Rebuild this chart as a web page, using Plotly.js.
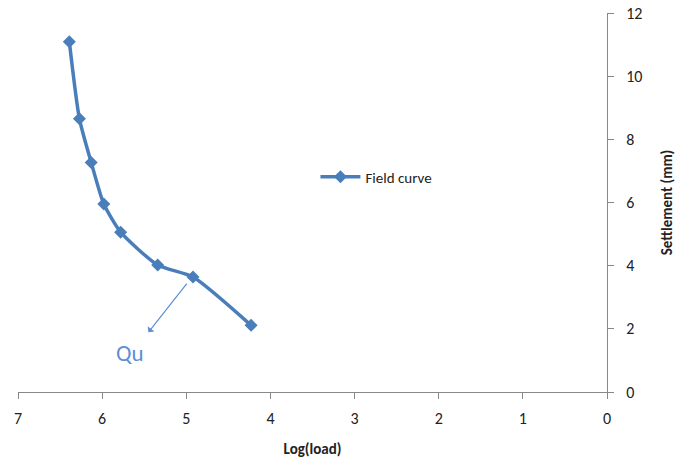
<!DOCTYPE html>
<html>
<head>
<meta charset="utf-8">
<script src="https://cdn.plot.ly/plotly-3.0.1.min.js"></script>
<style>html,body{margin:0;padding:0;background:#fff;}#chart{width:678px;height:461px;}</style>
</head>
<body>
<div id="chart"></div>
<script>
const logLoad = [6.39, 6.27, 6.13, 5.98, 5.78, 5.34, 4.92, 4.23];
const settlement = [11.09, 8.65, 7.27, 5.95, 5.06, 4.02, 3.64, 2.11];
const seriesName = 'Field curve';
const xTicks = [7, 6, 5, 4, 3, 2, 1, 0];
const yTicks = [0, 2, 4, 6, 8, 10, 12];
const quTail = [4.98, 3.48];
const quHead = [5.45, 1.89];
const quLabel = [5.67, 1.22];

const font = 'Carlito, Calibri, "Open Sans", "Liberation Sans", sans-serif';
const trace = {
  x: logLoad, y: settlement, name: seriesName,
  type: 'scatter', mode: 'lines+markers',
  line: {color: '#4A7EBB', width: 3.5, shape: 'spline', smoothing: 0.6},
  marker: {symbol: 'diamond', size: 10, color: '#4A7EBB'}
};
const layout = {
  width: 678, height: 461,
  margin: {l: 18, r: 71, t: 13, b: 69},
  paper_bgcolor: '#fff', plot_bgcolor: '#fff',
  font: {family: font, size: 15, color: '#222'},
  showlegend: true,
  legend: {x: 0.505, y: 0.567, xanchor: 'left', yanchor: 'middle', bgcolor: 'rgba(0,0,0,0)',
           font: {size: 15, color: '#222'}, itemwidth: 40},
  xaxis: {
    range: [7, 0], tickvals: xTicks, ticktext: xTicks.map(String),
    showgrid: false, zeroline: false, showline: true, linecolor: '#888', linewidth: 1,
    ticks: 'outside', ticklen: 6, tickcolor: '#888', tickfont: {size: 16, color: '#222'},
    ticklabelstandoff: 6,
    title: {text: '<b>Log(load)</b>', font: {size: 15, color: '#222'}, standoff: 16}
  },
  yaxis: {
    range: [0, 12], side: 'right', tickvals: yTicks,
    showgrid: false, zeroline: false, showline: true, linecolor: '#888', linewidth: 1,
    ticks: 'outside', ticklen: 6, tickcolor: '#888', tickfont: {size: 16, color: '#222'},
    ticklabelstandoff: 9,
    title: {text: '<b>Settlement (mm)</b>', font: {size: 15, color: '#222'}, standoff: 20}
  },
  annotations: [
    {x: quHead[0], y: quHead[1], ax: quTail[0], ay: quTail[1], xref: 'x', yref: 'y', axref: 'x', ayref: 'y',
     text: '', showarrow: true, arrowhead: 1, arrowsize: 1.2, arrowwidth: 1.2, arrowcolor: '#5B8FD6'},
    {x: quLabel[0], y: quLabel[1], xref: 'x', yref: 'y', text: 'Qu', showarrow: false,
     font: {size: 23, color: '#5B8FD6'}}
  ]
};
Plotly.newPlot('chart', [trace], layout, {displayModeBar: false, staticPlot: true});
</script>
</body>
</html>
